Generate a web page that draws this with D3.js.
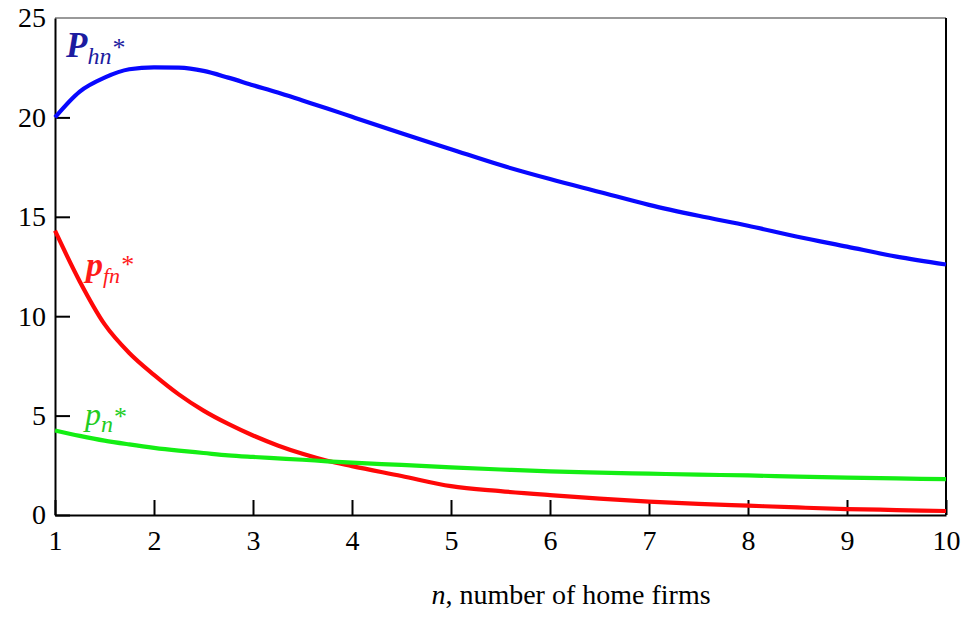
<!DOCTYPE html>
<html>
<head>
<meta charset="utf-8">
<script src="https://cdn.jsdelivr.net/npm/d3@7"></script>
<style>
  html, body { margin: 0; padding: 0; background: #fff; }
  svg { display: block; }
</style>
</head>
<body>
<svg id="chart" width="967" height="626"></svg>
<script>
// ---- data ----
const nValues = [1, 1.25, 1.5, 1.75, 2, 2.25, 2.5, 2.75, 3, 3.25, 3.5, 3.75, 4, 4.5, 5, 5.5, 6, 6.5, 7, 7.5, 8, 8.5, 9, 9.5, 10];
const Phn = [20.0, 21.3, 22.0, 22.42, 22.52, 22.5, 22.34, 22.0, 21.62, 21.25, 20.85, 20.45, 20.03, 19.2, 18.4, 17.6, 16.9, 16.25, 15.6, 15.05, 14.55, 14.0, 13.5, 13.0, 12.6];
const pfn = [14.3, 11.75, 9.6, 8.15, 7.05, 6.07, 5.25, 4.58, 4.0, 3.5, 3.08, 2.73, 2.46, 1.96, 1.45, 1.2, 1.0, 0.82, 0.67, 0.56, 0.47, 0.38, 0.3, 0.25, 0.2];
const pn = [4.25, 3.98, 3.74, 3.55, 3.38, 3.24, 3.12, 3.0, 2.92, 2.85, 2.78, 2.7, 2.63, 2.52, 2.4, 2.29, 2.19, 2.13, 2.08, 2.03, 1.99, 1.93, 1.88, 1.84, 1.8];
const xTicks = [1, 2, 3, 4, 5, 6, 7, 8, 9, 10];
const yTicks = [0, 5, 10, 15, 20, 25];
const xTitle = ", number of home firms";

const FONT = '"Liberation Serif"';
const svg = d3.select("#chart");
const mLeft = 55, mRight = 946, mTop = 18, mBottom = 515;

const x = d3.scaleLinear().domain([1, 10]).range([mLeft, mRight]);
const y = d3.scaleLinear().domain([0, 25]).range([mBottom, mTop]);

// frame (top & right)
svg.append("line").attr("x1", mLeft).attr("x2", mRight).attr("y1", mTop).attr("y2", mTop)
  .attr("stroke", "#777").attr("stroke-width", 1.5);
svg.append("line").attr("x1", mRight).attr("x2", mRight).attr("y1", mTop).attr("y2", mBottom)
  .attr("stroke", "#000").attr("stroke-width", 2);

// axes
const yAxis = svg.append("g").attr("transform", `translate(${mLeft},0)`)
  .call(d3.axisLeft(y).tickValues(yTicks).tickSizeInner(-15).tickSizeOuter(0).tickPadding(9));
const xAxis = svg.append("g").attr("transform", `translate(0,${mBottom})`)
  .call(d3.axisBottom(x).tickValues(xTicks).tickSizeInner(-15).tickSizeOuter(0).tickPadding(15));

[xAxis, yAxis].forEach(g => {
  g.attr("font-family", null).attr("font-size", null);
  g.select(".domain").attr("stroke", "#000").attr("stroke-width", 2);
  g.selectAll(".tick line").attr("stroke", "#000").attr("stroke-width", 2);
  g.selectAll(".tick text").attr("fill", "#000")
    .style("font-family", FONT).style("font-size", "28px");
});
yAxis.selectAll(".tick").filter(d => d === 25).select("line").remove();

// lines
const line = d3.line().x(d => x(d[0])).y(d => y(d[1])).curve(d3.curveMonotoneX);
const series = [
  { vals: Phn, color: "#0808ff" },
  { vals: pfn, color: "#ff0808" },
  { vals: pn, color: "#14ee14" }
];
series.forEach(s => {
  svg.append("path")
    .datum(nValues.map((n, i) => [n, s.vals[i]]))
    .attr("fill", "none")
    .attr("stroke", s.color)
    .attr("stroke-width", 4.2)
    .attr("stroke-linejoin", "round")
    .attr("d", line);
});

// series labels
function label(xp, yp, color, main, mainWeight, sub, mainSize, subSize, starDy) {
  const t = svg.append("text").attr("x", xp).attr("y", yp).attr("fill", color)
    .style("font-family", FONT).style("font-style", "italic");
  t.append("tspan").text(main).style("font-family", FONT).style("font-weight", mainWeight).style("font-size", mainSize + "px");
  t.append("tspan").text(sub).attr("dy", 7).style("font-family", FONT).style("font-size", subSize + "px");
  t.append("tspan").text("*").attr("dy", starDy).attr("dx", 1).style("font-family", FONT).style("font-style", "normal").style("font-size", "26px");
}
label(66, 57, "#1c1ca0", "P", "bold", "hn", 35, 24, -8);
label(86, 276, "#ff1a1a", "p", "bold", "fn", 34, 22, -10);
label(85, 425, "#22cc22", "p", "normal", "n", 32, 24, -7);

// x axis title
const tt = svg.append("text").attr("x", 571).attr("y", 604).attr("text-anchor", "middle")
  .attr("fill", "#000").style("font-family", FONT).style("font-size", "28px");
tt.append("tspan").text("n").style("font-family", FONT).style("font-style", "italic");
tt.append("tspan").text(xTitle).style("font-family", FONT);
</script>
</body>
</html>
